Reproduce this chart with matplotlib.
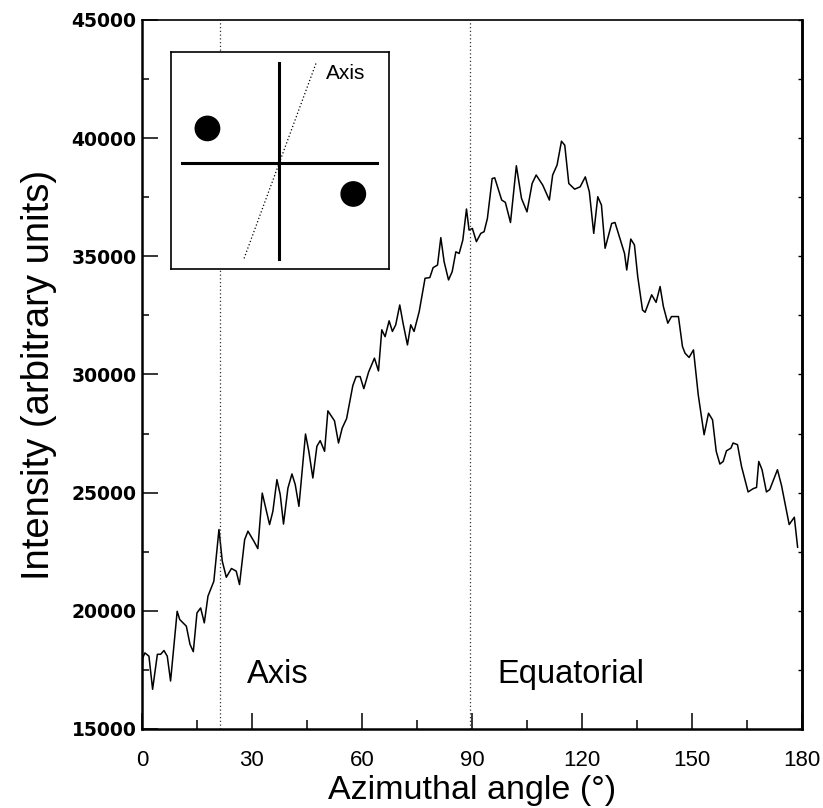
import matplotlib
matplotlib.use("Agg")
import matplotlib.pyplot as plt
from matplotlib.patches import Circle
from matplotlib.ticker import MultipleLocator

plt.rcParams['font.family'] = ['Liberation Sans', 'DejaVu Sans']

# azimuthal profile
angle = [0.0, 0.2, 0.8, 1.9, 2.9, 4.2, 5.1, 6.0, 6.9, 7.8, 9.6, 10.3, 12.1, 13.1,
         14.0, 15.0, 16.0, 17.0, 18.0, 19.6, 21.0, 21.9, 23.0, 24.4, 25.7, 26.6,
         28.0, 28.9, 30.5, 31.6, 32.8, 34.8, 35.7, 36.8, 37.7, 38.6, 39.8, 40.9,
         41.8, 42.8, 44.6, 45.5, 46.6, 47.7, 48.6, 49.8, 50.7, 52.5, 53.6, 54.6,
         55.8, 57.5, 58.4, 59.5, 60.5, 61.8, 63.4, 64.5, 65.4, 66.3, 67.4, 68.3,
         69.2, 70.3, 71.2, 72.4, 73.3, 74.2, 75.6, 77.2, 78.5, 79.4, 80.6, 81.5,
         82.4, 83.6, 84.6, 85.6, 86.5, 87.5, 88.5, 89.2, 90.1, 91.2, 92.4, 93.3,
         94.2, 95.5, 96.2, 98.1, 99.1, 100.5, 102.1, 103.5, 105.0, 106.4, 107.5,
         109.3, 111.1, 112.0, 113.2, 114.4, 115.3, 116.4, 118.0, 119.5, 120.9,
         122.0, 123.2, 124.3, 125.3, 126.3, 128.1, 129.0, 130.9, 131.6, 132.2,
         133.3, 134.3, 135.2, 136.5, 137.2, 139.0, 140.2, 141.3, 142.2, 143.4,
         144.4, 146.3, 147.4, 148.1, 149.2, 150.4, 151.7, 153.3, 154.5, 155.6,
         156.6, 157.6, 158.5, 159.4, 160.6, 161.2, 162.4, 163.5, 165.3, 166.7,
         167.6, 168.2, 169.1, 170.3, 171.2, 173.3, 174.4, 176.5, 177.9, 178.8]
intensity = [17300, 18000, 18220, 18080, 16680, 18160, 18160, 18320, 18080, 17030,
             19980, 19630, 19350, 18580, 18270, 19910, 20120, 19490, 20620, 21250,
             23440, 22100, 21420, 21790, 21680, 21110, 23010, 23370, 22950, 22630,
             24980, 23650, 24210, 25550, 24920, 23670, 25190, 25790, 25340, 24420,
             27480, 26750, 25620, 26960, 27200, 26750, 28460, 28040, 27100, 27730,
             28130, 29530, 29910, 29910, 29400, 30100, 30690, 30150, 31890, 31600,
             32270, 31820, 32100, 32940, 32170, 31250, 32100, 31820, 32660, 34070,
             34100, 34520, 34630, 35790, 34770, 34000, 34350, 35190, 35120, 35690,
             37000, 36110, 36180, 35620, 35970, 36040, 36600, 38290, 38320, 37380,
             37280, 36430, 38830, 37450, 36880, 38080, 38440, 38010, 37380, 38440,
             38860, 39870, 39700, 38080, 37840, 37940, 38360, 37730, 35970, 37520,
             37170, 35340, 36390, 36430, 35480, 35120, 34420, 35730, 35480, 34140,
             32730, 32630, 33370, 33050, 33720, 32870, 32170, 32450, 32450, 31180,
             30900, 30720, 31040, 29140, 27450, 28360, 28080, 26750, 26210, 26320,
             26770, 26880, 27100, 27030, 26110, 25030, 25170, 25220, 26320, 25970,
             25030, 25130, 25970, 25310, 23650, 23960, 22690]

boundaries = [21.4, 89.4]
regions = ['Axis', 'Equatorial']
region_x = [28.6, 96.8]

fig = plt.figure(figsize=(8.23, 8.08), dpi=100)
ax = fig.add_axes([0.1725, 0.0978, 0.802, 0.8775])

ax.plot(angle, intensity, color='black', lw=1.1)
for b in boundaries:
    ax.axvline(b, color='#333333', lw=0.9, linestyle=(0, (1, 2)))
for name, xr in zip(regions, region_x):
    ax.text(xr, 16950, name, fontsize=23.5, va='baseline', ha='left')

ax.set_xlim(0, 180)
ax.set_ylim(15000, 45000)
ax.xaxis.set_major_locator(MultipleLocator(30))
ax.xaxis.set_minor_locator(MultipleLocator(15))
ax.yaxis.set_major_locator(MultipleLocator(5000))
ax.yaxis.set_minor_locator(MultipleLocator(2500))
ax.tick_params(axis='both', which='both', direction='in', width=1.1)
ax.tick_params(axis='x', which='major', length=11.5, pad=15, labelsize=16)
ax.tick_params(axis='x', which='minor', length=6.5)
ax.tick_params(axis='y', which='major', length=11.5, pad=4)
ax.tick_params(axis='y', which='minor', length=5)
for lab in ax.get_yticklabels():
    lab.set_fontfamily('DejaVu Sans')
    lab.set_fontweight('bold')
    lab.set_fontsize(13.5)

sec = ax.secondary_yaxis('right')
sec.yaxis.set_major_locator(MultipleLocator(2500))
sec.tick_params(direction='in', length=3, width=1, labelright=False)

for side in ['left', 'bottom', 'right']:
    ax.spines[side].set_linewidth(1.8)
ax.spines['top'].set_linewidth(1.2)
sec.spines['right'].set_linewidth(1.8)

fig.text(0.5735, 0.0115, 'Azimuthal angle (°)', fontsize=24.5, ha='center', va='baseline')
ax.set_ylabel('Intensity (arbitrary units)', fontsize=27.5, labelpad=10)

# inset schematic
ins = fig.add_axes([0.2078, 0.667, 0.2649, 0.2686])
ins.set_xlim(0, 1)
ins.set_ylim(0, 1)
ins.set_xticks([])
ins.set_yticks([])
for s in ins.spines.values():
    s.set_linewidth(1.2)
ins.plot([0.049, 0.946], [0.49, 0.49], color='black', lw=2.2)
ins.plot([0.497, 0.497], [0.045, 0.948], color='black', lw=2.2)
ins.plot([0.335, 0.665], [0.049, 0.948], color='black', lw=0.9, linestyle=(0, (1, 1.8)))
ins.add_patch(Circle((0.167, 0.648), 0.056, color='black'))
ins.add_patch(Circle((0.836, 0.346), 0.056, color='black'))
ins.text(0.71, 0.9, 'Axis', fontsize=15, va='center', ha='left')

fig.savefig('out.png', dpi=100)
